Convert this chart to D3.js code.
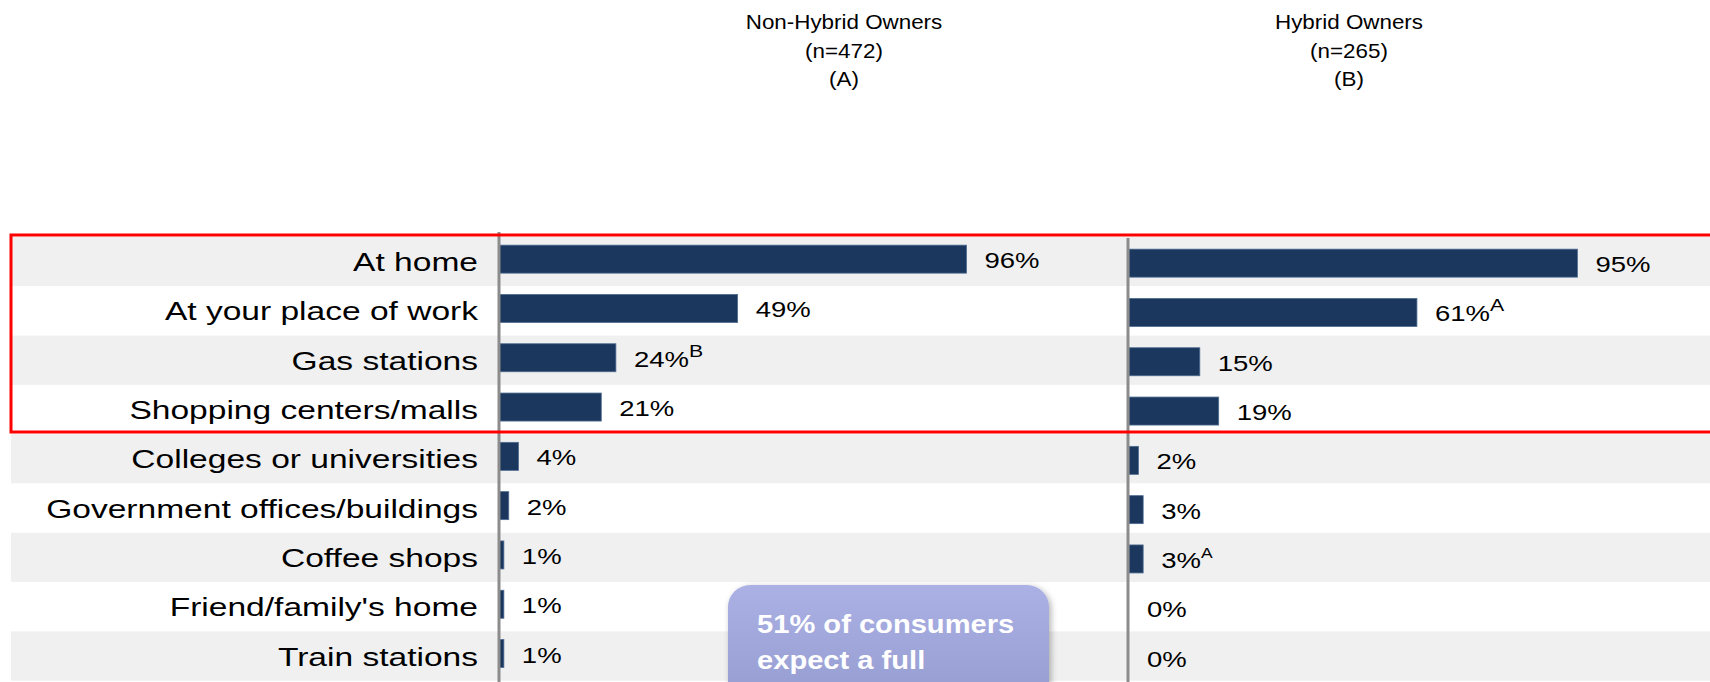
<!DOCTYPE html>
<html>
<head>
<meta charset="utf-8">
<script src="https://cdn.jsdelivr.net/npm/d3@7"></script>
<style>
  body { margin: 0; background: #fff; overflow: hidden; }
  text { font-family: "Liberation Sans", Arial, sans-serif; }
</style>
</head>
<body>
<div id="chart"></div>
<script>
const width = 1710
const height = 682

// --- Data ---
const categories = [
  "At home", "At your place of work", "Gas stations", "Shopping centers/malls",
  "Colleges or universities", "Government offices/buildings", "Coffee shops",
  "Friend/family's home", "Train stations"
]
const nonHybridValues = [96, 49, 24, 21, 4, 2, 1, 1, 1]
const hybridValues = [95, 61, 15, 19, 2, 3, 3, 0, 0]
// significance letters shown as superscripts
const nonHybridSig = ["", "", "B", "", "", "", "", "", ""]
const hybridSig = ["", "A", "", "", "", "", "A", "", ""]
const groupHeaders = [
  ["Non-Hybrid Owners", "(n=472)", "(A)"],
  ["Hybrid Owners", "(n=265)", "(B)"]
]
const calloutLines = ["51% of consumers", "expect a full"]

// --- Svg ---
const svg = d3.select("#chart")
  .append("svg")
    .attr("width", width)
    .attr("height", height)

const defs = svg.append("defs")
const grad = defs.append("linearGradient")
    .attr("id", "callout-grad")
    .attr("x1", 0).attr("y1", 0).attr("x2", 0).attr("y2", 1)
grad.append("stop").attr("offset", "0%").attr("stop-color", "#abb1e5")
grad.append("stop").attr("offset", "100%").attr("stop-color", "#9198cc")
defs.append("filter")
    .attr("id", "shadow")
    .attr("x", "-10%").attr("y", "-10%").attr("width", "130%").attr("height", "130%")
  .append("feDropShadow")
    .attr("dx", 2).attr("dy", 2).attr("stdDeviation", 3)
    .attr("flood-color", "#000").attr("flood-opacity", 0.3)

// --- Scales ---
const yScale = d3.scaleBand()
  .domain(categories)
  .range([237, 237 + 49.3 * categories.length])

const xLeft = d3.scaleLinear().domain([0, 100]).range([499, 986])
const xRight = d3.scaleLinear().domain([0, 100]).range([1129, 1601])

const barH = 28
const rows = categories.map((c, i) => ({ cat: c, i: i, a: nonHybridValues[i], b: hybridValues[i], sa: nonHybridSig[i], sb: hybridSig[i] }))

// stretched text helper (original slide was widened)
const stretchText = (g, x, y, str, size, sx, anchor) => g.append("text")
    .attr("transform", `translate(${x},${y}) scale(${sx},1)`)
    .attr("text-anchor", anchor || "start")
    .attr("font-size", size)
    .text(str)

// --- Row bands ---
svg.append("g").selectAll("rect")
  .data(rows)
  .join("rect")
    .attr("x", 11)
    .attr("y", d => yScale(d.cat))
    .attr("width", width - 11)
    .attr("height", yScale.bandwidth())
    .attr("fill", d => d.i % 2 === 0 ? "#f0f0f0" : "#ffffff")

// --- Category labels ---
const labelG = svg.append("g").attr("fill", "#000")
rows.forEach(d => {
  stretchText(labelG, 478, yScale(d.cat) + yScale.bandwidth() / 2 + 9.5, d.cat, 26, 1.29, "end")
})

// --- Bars ---
const drawPanel = (xScale, key, sigKey, shift) => {
  const g = svg.append("g")
  const cy = d => yScale(d.cat) + yScale.bandwidth() / 2 + shift
  g.selectAll("rect")
    .data(rows)
    .join("rect")
      .attr("x", xScale(0))
      .attr("y", d => cy(d) - barH / 2)
      .attr("width", d => xScale(d[key]) - xScale(0))
      .attr("height", barH)
      .attr("fill", "#1b375e")
      .attr("stroke", "#4d6b90")
      .attr("stroke-width", 0.8)
      .attr("stroke-opacity", d => d[key] > 0 ? 1 : 0)

  rows.forEach(d => {
    const lx = xScale(d[key]) + 18
    const t = stretchText(g, lx, cy(d) + 9, d[key] + "%", 22, 1.25)
    if (d[sigKey]) {
      const sz = d[key] < 10 ? 14 : 17
      t.append("tspan")
        .attr("font-size", sz)
        .attr("dy", -10)
        .text(d[sigKey])
    }
  })
}
drawPanel(xLeft, "a", "sa", -2.5)
drawPanel(xRight, "b", "sb", 1.5)

// --- Axis lines ---
svg.append("line")
    .attr("x1", xLeft(0)).attr("x2", xLeft(0))
    .attr("y1", 232).attr("y2", height)
    .attr("stroke", "#8c8c8c").attr("stroke-width", 3)
svg.append("line")
    .attr("x1", xRight(0) - 1).attr("x2", xRight(0) - 1)
    .attr("y1", 238).attr("y2", height)
    .attr("stroke", "#8c8c8c").attr("stroke-width", 3)

// --- Highlight box ---
svg.append("rect")
    .attr("x", 11).attr("y", 235)
    .attr("width", width + 10).attr("height", 197)
    .attr("fill", "none")
    .attr("stroke", "#ff0000")
    .attr("stroke-width", 3)

// --- Group headers ---
const headG = svg.append("g").attr("fill", "#000")
const headX = [844, 1349]
groupHeaders.forEach((lines, k) => {
  lines.forEach((s, j) => {
    stretchText(headG, headX[k], 29 + j * 28.5, s, 20, 1.12, "middle")
  })
})

// --- Callout ---
const callG = svg.append("g")
callG.append("rect")
    .attr("x", 728).attr("y", 585)
    .attr("width", 321).attr("height", 140)
    .attr("rx", 22)
    .attr("fill", "url(#callout-grad)")
    .attr("filter", "url(#shadow)")
calloutLines.forEach((s, j) => {
  stretchText(callG, 757, 633 + j * 36, s, 26, 1.12)
    .attr("fill", "#fff")
    .attr("font-weight", "bold")
})
</script>
</body>
</html>
